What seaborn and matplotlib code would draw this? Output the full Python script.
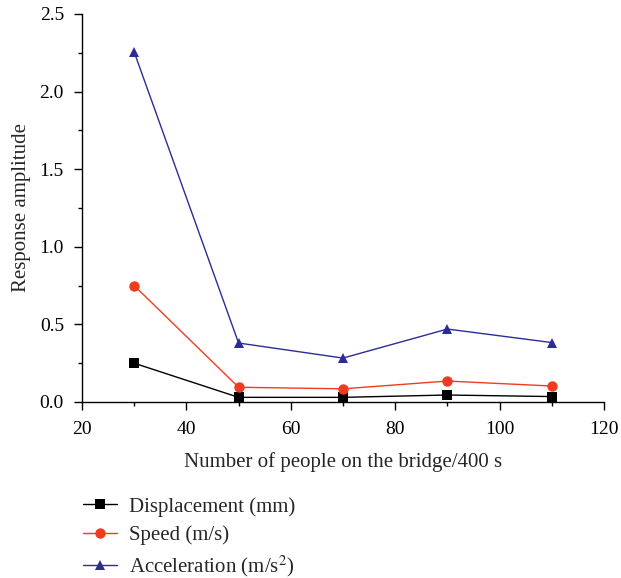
import matplotlib
matplotlib.use("Agg")
import matplotlib.pyplot as plt
import seaborn as sns
import pandas as pd
from matplotlib.ticker import MultipleLocator

people = [30, 50, 70, 90, 110]
displacement = [0.25, 0.03, 0.03, 0.045, 0.035]
speed = [0.75, 0.095, 0.085, 0.135, 0.103]
acceleration = [2.255, 0.38, 0.283, 0.47, 0.383]

series_names = ["Displacement (mm)", "Speed (m/s)", "Acceleration (m/s$^2$)"]
series_values = [displacement, speed, acceleration]

df = pd.concat(
    [pd.DataFrame({"people": people, "value": v, "series": n})
     for n, v in zip(series_names, series_values)],
    ignore_index=True,
)

sns.set_theme(style="ticks")
plt.rcParams["font.family"] = ["Liberation Serif", "DejaVu Serif"]
plt.rcParams["mathtext.fontset"] = "stix"

fig = plt.figure(figsize=(6.21, 5.78), dpi=100)
ax = fig.add_axes([0.132, 0.3045, 0.8406, 0.6713])

palette = {series_names[0]: "#000000", series_names[1]: "#f03c1e", series_names[2]: "#2c2c96"}
markers = {series_names[0]: "s", series_names[1]: "o", series_names[2]: "^"}

sns.lineplot(data=df, x="people", y="value", hue="series", style="series",
             palette=palette, markers=markers, dashes=False, markersize=7.5,
             markeredgewidth=0, linewidth=1.0, ax=ax, legend=True)

ax.set_xlim(20, 120)
ax.set_ylim(0, 2.5)
ax.xaxis.set_major_locator(MultipleLocator(20))
ax.xaxis.set_minor_locator(MultipleLocator(10))
ax.yaxis.set_major_locator(MultipleLocator(0.5))
ax.yaxis.set_minor_locator(MultipleLocator(0.25))
ax.yaxis.set_major_formatter(plt.FuncFormatter(lambda v, p: f"{v:.1f}"))
ax.tick_params(which="major", direction="out", length=6, width=1, labelsize=14,
               color="black", labelcolor="black")
ax.tick_params(axis="x", which="major", pad=8)
ax.tick_params(axis="y", which="major", pad=7)
ax.tick_params(which="minor", direction="out", length=3, width=1, color="black")
for s in ["left", "bottom"]:
    ax.spines[s].set_color("black")
    ax.spines[s].set_linewidth(1)
sns.despine(ax=ax)

ax.set_xlabel("Number of people on the bridge/400 s", fontsize=15, labelpad=10)
ax.set_ylabel("Response amplitude", fontsize=15, labelpad=6)

handles, labels = ax.get_legend_handles_labels()
ax.legend(handles, labels, loc="upper left", bbox_to_anchor=(83 / 621, 1 - 497 / 578),
          bbox_transform=fig.transFigure, frameon=False, fontsize=15,
          handlelength=1.63, handletextpad=0.58, labelspacing=0.4,
          borderaxespad=0, borderpad=0)

fig.savefig("out.png", dpi=100)
